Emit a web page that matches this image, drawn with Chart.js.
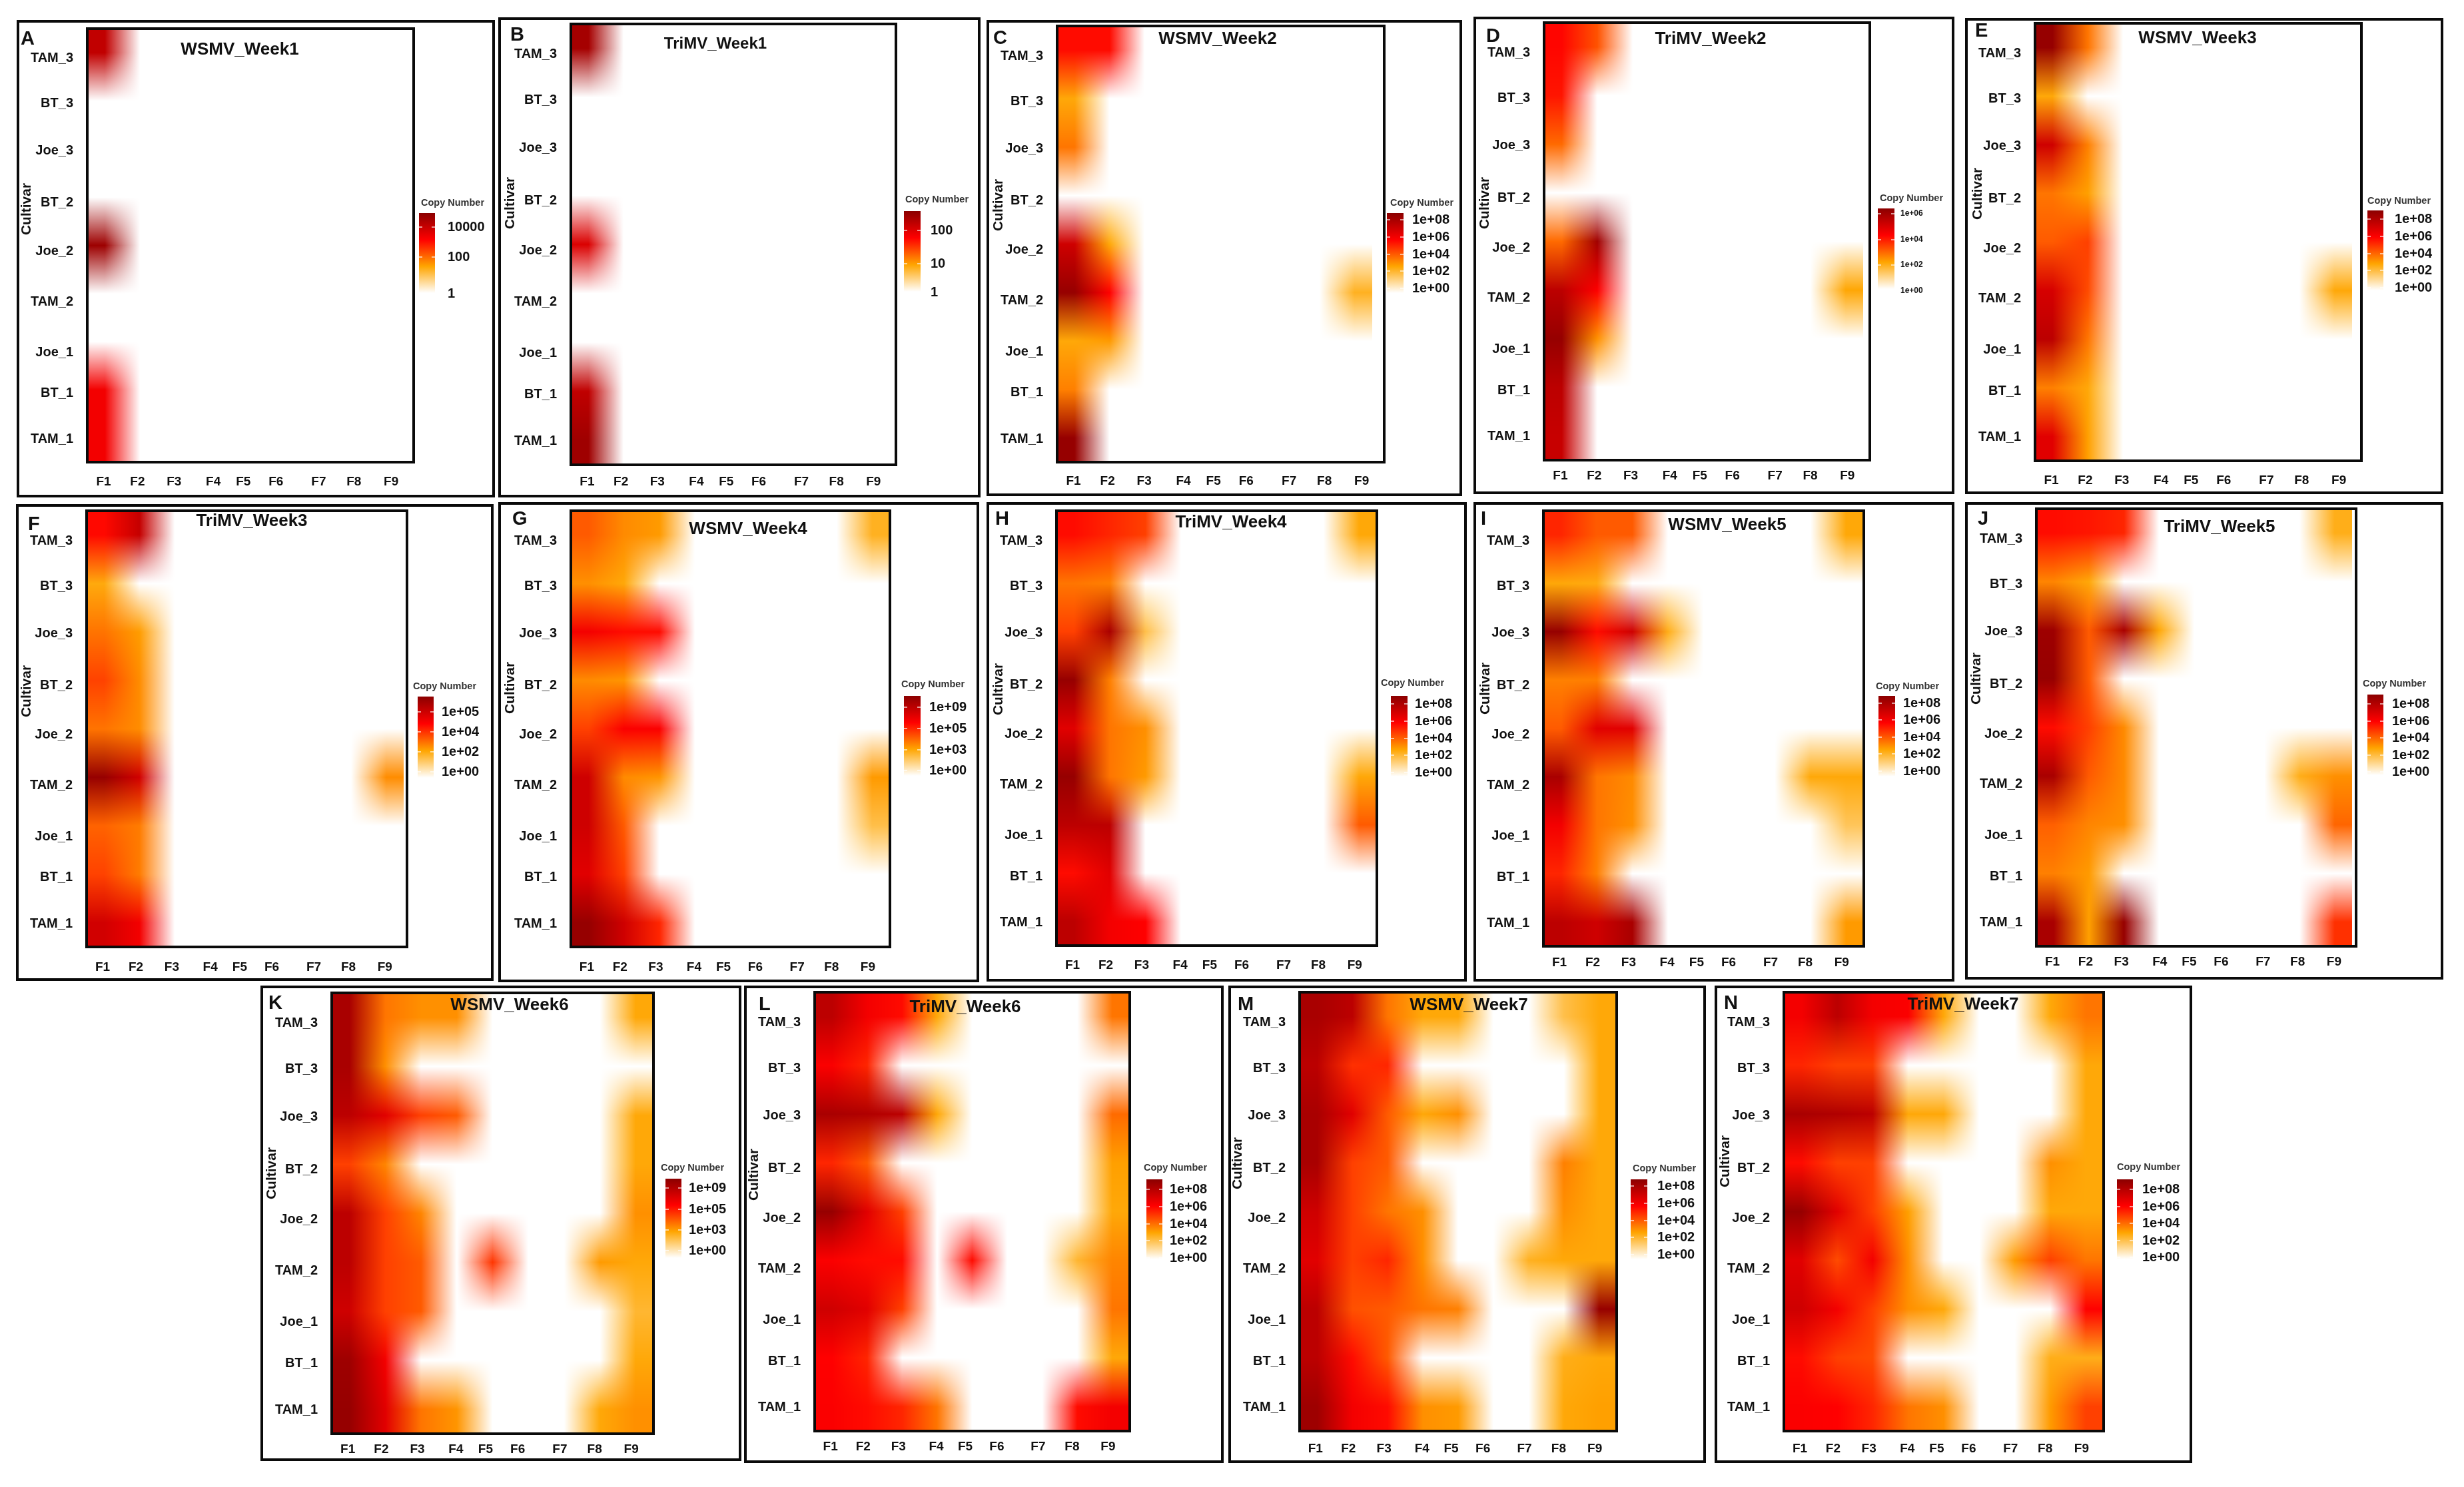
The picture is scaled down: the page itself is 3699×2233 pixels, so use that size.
<!DOCTYPE html>
<html>
<head>
<meta charset="utf-8">
<title>Copy number heatmaps</title>
<script src="https://cdn.jsdelivr.net/npm/chart.js@4/dist/chart.umd.min.js"></script>
<style>
  html, body { margin: 0; background: #fff; }
  #page { position: relative; width: 3699px; height: 2233px; overflow: hidden; background: #fff; }
  #page canvas { position: absolute; filter: blur(0.7px); }
</style>
</head>
<body>
<div id="page"></div>
<script>
// ── data ──────────────────────────────────────────
var cultivars = ['TAM_3', 'BT_3', 'Joe_3', 'BT_2', 'Joe_2', 'TAM_2', 'Joe_1', 'BT_1', 'TAM_1'];
var fields = ['F1', 'F2', 'F3', 'F4', 'F5', 'F6', 'F7', 'F8', 'F9'];

// log10 copy number, one row per cultivar (top to bottom), 0 = nothing detected
var WSMV_Week1 = [
  [4.1, 0, 0, 0, 0, 0, 0, 0, 0],
  [0, 0, 0, 0, 0, 0, 0, 0, 0],
  [0, 0, 0, 0, 0, 0, 0, 0, 0],
  [0, 0, 0, 0, 0, 0, 0, 0, 0],
  [4.6, 0, 0, 0, 0, 0, 0, 0, 0],
  [0, 0, 0, 0, 0, 0, 0, 0, 0],
  [0, 0, 0, 0, 0, 0, 0, 0, 0],
  [3.4, 0, 0, 0, 0, 0, 0, 0, 0],
  [3.4, 0, 0, 0, 0, 0, 0, 0, 0]
];
var TriMV_Week1 = [
  [2.45, 0, 0, 0, 0, 0, 0, 0, 0],
  [0, 0, 0, 0, 0, 0, 0, 0, 0],
  [0, 0, 0, 0, 0, 0, 0, 0, 0],
  [0, 0, 0, 0, 0, 0, 0, 0, 0],
  [2.05, 0, 0, 0, 0, 0, 0, 0, 0],
  [0, 0, 0, 0, 0, 0, 0, 0, 0],
  [0, 0, 0, 0, 0, 0, 0, 0, 0],
  [2.25, 0, 0, 0, 0, 0, 0, 0, 0],
  [2.5, 0, 0, 0, 0, 0, 0, 0, 0]
];
var WSMV_Week2 = [
  [6, 6, 0, 0, 0, 0, 0, 0, 0],
  [3, 0, 0, 0, 0, 0, 0, 0, 0],
  [4, 0, 0, 0, 0, 0, 0, 0, 0],
  [0, 0, 0, 0, 0, 0, 0, 0, 0],
  [7.5, 3, 0, 0, 0, 0, 0, 0, 0],
  [9, 6.2, 0, 0, 0, 0, 0, 0, 2.7],
  [3, 3.3, 0, 0, 0, 0, 0, 0, 0],
  [3.8, 0, 0, 0, 0, 0, 0, 0, 0],
  [9, 0, 0, 0, 0, 0, 0, 0, 0]
];
var TriMV_Week2 = [
  [4.2, 3.2, 0, 0, 0, 0, 0, 0, 0],
  [4, 0, 0, 0, 0, 0, 0, 0, 0],
  [2.9, 0, 0, 0, 0, 0, 0, 0, 0],
  [0, 0, 0, 0, 0, 0, 0, 0, 0],
  [2.9, 6, 0, 0, 0, 0, 0, 0, 0],
  [5.5, 4.3, 0, 0, 0, 0, 0, 0, 2.1],
  [6.2, 2.4, 0, 0, 0, 0, 0, 0, 0],
  [5.5, 0, 0, 0, 0, 0, 0, 0, 0],
  [5.3, 0, 0, 0, 0, 0, 0, 0, 0]
];
var WSMV_Week3 = [
  [9, 4, 0, 0, 0, 0, 0, 0, 0],
  [3, 0, 0, 0, 0, 0, 0, 0, 0],
  [7.5, 3.8, 0, 0, 0, 0, 0, 0, 0],
  [4, 3.2, 0, 0, 0, 0, 0, 0, 0],
  [4.5, 5, 0, 0, 0, 0, 0, 0, 0],
  [7.3, 4.8, 0, 0, 0, 0, 0, 0, 3],
  [8, 4, 0, 0, 0, 0, 0, 0, 0],
  [3.8, 3, 0, 0, 0, 0, 0, 0, 0],
  [7, 3.2, 0, 0, 0, 0, 0, 0, 0]
];
var TriMV_Week3 = [
  [3.9, 5, 0, 0, 0, 0, 0, 0, 0],
  [1.9, 0, 0, 0, 0, 0, 0, 0, 0],
  [2.6, 2.1, 0, 0, 0, 0, 0, 0, 0],
  [3.2, 2.3, 0, 0, 0, 0, 0, 0, 0],
  [2.6, 2.3, 0, 0, 0, 0, 0, 0, 0],
  [5.8, 4.8, 0, 0, 0, 0, 0, 0, 2.3],
  [2.8, 2.5, 0, 0, 0, 0, 0, 0, 0],
  [3.2, 2.5, 0, 0, 0, 0, 0, 0, 0],
  [4.8, 4.2, 0, 0, 0, 0, 0, 0, 0]
];
var WSMV_Week4 = [
  [4.5, 3.6, 3.3, 0, 0, 0, 0, 0, 2.7],
  [3.5, 3, 0, 0, 0, 0, 0, 0, 0],
  [6.5, 6, 6, 0, 0, 0, 0, 0, 0],
  [3.6, 3.4, 0, 0, 0, 0, 0, 0, 0],
  [5, 6.3, 6.3, 0, 0, 0, 0, 0, 0],
  [7.5, 3.6, 3.4, 0, 0, 0, 0, 0, 3.3],
  [7.5, 4.5, 0, 0, 0, 0, 0, 0, 2.2],
  [7, 5, 0, 0, 0, 0, 0, 0, 0],
  [9, 7.5, 5.5, 0, 0, 0, 0, 0, 0]
];
var TriMV_Week4 = [
  [6, 5.5, 5, 0, 0, 0, 0, 0, 3],
  [4, 3.8, 0, 0, 0, 0, 0, 0, 0],
  [5, 8.5, 2.2, 0, 0, 0, 0, 0, 0],
  [9, 3.8, 0, 0, 0, 0, 0, 0, 0],
  [7, 4, 3.5, 0, 0, 0, 0, 0, 0],
  [9, 4, 3.3, 0, 0, 0, 0, 0, 3],
  [8, 8, 0, 0, 0, 0, 0, 0, 4.5],
  [6, 7, 0, 0, 0, 0, 0, 0, 0],
  [8, 6.5, 6.2, 0, 0, 0, 0, 0, 0]
];
var WSMV_Week5 = [
  [5.5, 4.5, 4.5, 0, 0, 0, 0, 0, 3],
  [3, 2.9, 0, 0, 0, 0, 0, 0, 0],
  [9, 6, 7.5, 2.8, 0, 0, 0, 0, 0],
  [3.8, 3.8, 0, 0, 0, 0, 0, 0, 0],
  [4.5, 7, 7, 0, 0, 0, 0, 0, 0],
  [8.5, 4, 3.6, 0, 0, 0, 0, 3, 3],
  [6.5, 4, 3.5, 0, 0, 0, 0, 0, 2],
  [5.5, 3.8, 0, 0, 0, 0, 0, 0, 0],
  [8, 7.5, 8.5, 0, 0, 0, 0, 0, 3.3]
];
var TriMV_Week5 = [
  [6, 5.8, 5.5, 0, 0, 0, 0, 0, 2.8],
  [3.7, 3, 0, 0, 0, 0, 0, 0, 0],
  [8.8, 4.5, 8.5, 3, 0, 0, 0, 0, 0],
  [9, 4.5, 0, 0, 0, 0, 0, 0, 0],
  [6, 5, 3.6, 0, 0, 0, 0, 0, 0],
  [8.5, 4.5, 3.6, 0, 0, 0, 0, 2.8, 3.5],
  [4.4, 3.7, 3.5, 0, 0, 0, 0, 0, 4.3],
  [3.8, 3.3, 0, 0, 0, 0, 0, 0, 0],
  [8.5, 3.2, 9, 0, 0, 0, 0, 0, 5.3]
];
var WSMV_Week6 = [
  [8.5, 4, 3.5, 3.5, 0, 0, 0, 0, 3],
  [8.5, 3.5, 0, 0, 0, 0, 0, 0, 0],
  [8, 7, 5, 4.5, 0, 0, 0, 0, 3],
  [5, 3.7, 0, 0, 0, 0, 0, 0, 3],
  [8, 5, 3.7, 0, 0, 0, 0, 0, 3.5],
  [8, 5, 4.5, 0, 5.2, 0, 0, 3.3, 3],
  [7.5, 5, 4.5, 0, 0, 0, 0, 0, 2.5],
  [8.8, 6.5, 0, 0, 0, 0, 0, 0, 3],
  [9, 7, 4, 3.4, 0, 0, 0, 3, 3.5]
];
var TriMV_Week6 = [
  [8, 6.5, 6, 3, 0, 0, 0, 0, 4],
  [6.3, 5.5, 0, 0, 0, 0, 0, 0, 0],
  [8.5, 8.3, 8, 3, 0, 0, 0, 0, 4.2],
  [5.5, 4.5, 0, 0, 0, 0, 0, 0, 3.2],
  [9, 7, 5, 0, 0, 0, 0, 0, 3],
  [6.3, 6, 6, 0, 6, 0, 0, 2.5, 3.7],
  [7.5, 7, 5, 0, 0, 0, 0, 0, 4],
  [6.2, 5.5, 0, 0, 0, 0, 0, 0, 3],
  [6.3, 6, 5.5, 4, 0, 0, 0, 6, 6.5]
];
var WSMV_Week7 = [
  [8.5, 8, 4, 3, 3, 0, 0, 2.2, 3],
  [8, 5.3, 5.5, 0, 0, 0, 0, 0, 3],
  [8.5, 7, 4.5, 3, 3.5, 0, 0, 0, 3],
  [8.5, 5, 4.5, 0, 0, 0, 0, 3.8, 3],
  [7.5, 5, 4, 3.5, 0, 0, 0, 3.5, 3],
  [7, 5, 5.5, 3.5, 0, 0, 2.7, 3, 3],
  [8, 4.7, 4.5, 4, 3.8, 0, 0, 0, 9],
  [8, 6, 4.5, 0, 0, 0, 0, 2.8, 3],
  [8.8, 6.5, 6, 3.5, 3.3, 0, 0, 3, 3.2]
];
var TriMV_Week7 = [
  [6.5, 8, 6.5, 6.3, 3, 0, 0, 3, 4],
  [5.5, 5, 5, 0, 0, 0, 0, 0, 3],
  [8.5, 8.3, 8, 3, 3, 0, 0, 0, 3],
  [6, 5, 5, 0, 0, 0, 0, 3.5, 3],
  [9, 7, 5, 3.2, 0, 0, 0, 3, 3],
  [7, 4.8, 6.5, 3.5, 0, 0, 3.3, 5, 4],
  [7.5, 6.5, 5, 3.5, 3, 0, 0, 0, 6.2],
  [6, 5, 4.8, 0, 0, 0, 0, 2.8, 2.8],
  [6.3, 6.2, 5.5, 4, 3.5, 0, 0, 3.3, 5]
];

var legend8 = ['1e+08', '1e+06', '1e+04', '1e+02', '1e+00'];
var legend9 = ['1e+09', '1e+05', '1e+03', '1e+00'];
var legend5 = ['1e+05', '1e+04', '1e+02', '1e+00'];
var legend6 = ['1e+06', '1e+04', '1e+02', '1e+00'];
var legendA = ['10000', '100', '1'];
var legendB = ['100', '10', '1'];

// colour ramp, evenly spaced from lowest to highest value
var ramp = [[255, 255, 255], [255, 165, 0], [255, 0, 0], [139, 0, 0]];

// ── layout ────────────────────────────────────────
var xLabelFrac = [0.05, 0.154, 0.266, 0.386, 0.478, 0.578, 0.709, 0.817, 0.931];
var yLabelShift = [0.12, 0.06, 0.03, 0.11, 0.13, 0.17, 0.22, 0.07, 0.02];

var panels = [
  { tag: 'A', name: 'WSMV_Week1', rows: WSMV_Week1, max: 4.85, gap: 0.25, frame: [25, 30, 743, 747], plot: [131, 43, 621, 694], tagAt: [31, 67], titleAt: [360, 75], cultAt: [40, 314], xPad: 19,
    leg: { labels: legendA, ys: [341, 386, 441], bar: [629, 320, 653, 440], textX: 672, headAt: [632, 305] } },
  { tag: 'B', name: 'TriMV_Week1', rows: TriMV_Week1, max: 2.65, gap: 0.25, titleSize: 24, frame: [748, 26, 1472, 747], plot: [857, 36, 1345, 698], tagAt: [766, 61], titleAt: [1074, 66], cultAt: [766, 305], xPad: 15,
    leg: { labels: legendB, ys: [346, 396, 439], bar: [1357, 317, 1382, 438], textX: 1397, headAt: [1359, 300] } },
  { tag: 'C', name: 'WSMV_Week2', rows: WSMV_Week2, max: 9.3, gap: 0.35, frame: [1481, 30, 2195, 745], plot: [1587, 39, 2078, 694], tagAt: [1491, 66], titleAt: [1828, 59], cultAt: [1499, 308], xPad: 18,
    leg: { labels: legend8, ys: [330, 356, 382, 407, 433], bar: [2082, 320, 2107, 440], textX: 2120, headAt: [2087, 305] } },
  { tag: 'D', name: 'TriMV_Week2', rows: TriMV_Week2, max: 6.4, gap: 0.18, frame: [2212, 25, 2934, 742], plot: [2318, 34, 2807, 691], tagAt: [2231, 63], titleAt: [2568, 59], cultAt: [2229, 305], xPad: 13,
    leg: { labels: legend6, ys: [321, 360, 398, 437], bar: [2819, 313, 2844, 434], textX: 2853, textSize: 12, headAt: [2822, 298] } },
  { tag: 'E', name: 'WSMV_Week3', rows: WSMV_Week3, max: 9.3, gap: 0.26, frame: [2950, 27, 3668, 742], plot: [3055, 35, 3545, 692], tagAt: [2965, 55], titleAt: [3299, 58], cultAt: [2969, 291], xPad: 19,
    leg: { labels: legend8, ys: [329, 355, 381, 406, 432], bar: [3554, 316, 3578, 436], textX: 3595, headAt: [3554, 302] } },
  { tag: 'F', name: 'TriMV_Week3', rows: TriMV_Week3, max: 6, gap: 0.09, frame: [24, 757, 741, 1473], plot: [130, 767, 611, 1422], tagAt: [42, 796], titleAt: [378, 783], cultAt: [40, 1038], xPad: 20,
    leg: { labels: legend5, ys: [1069, 1099, 1129, 1159], bar: [627, 1046, 651, 1168], textX: 663, headAt: [620, 1031] } },
  { tag: 'G', name: 'WSMV_Week4', rows: WSMV_Week4, max: 9.3, gap: 0, frame: [748, 754, 1470, 1475], plot: [857, 767, 1336, 1422], tagAt: [769, 788], titleAt: [1123, 795], cultAt: [766, 1033], xPad: 20,
    leg: { labels: legend9, ys: [1062, 1094, 1126, 1157], bar: [1357, 1045, 1382, 1165], textX: 1395, headAt: [1353, 1028] } },
  { tag: 'H', name: 'TriMV_Week4', rows: TriMV_Week4, max: 9.3, gap: 0, frame: [1481, 754, 2202, 1474], plot: [1586, 767, 2067, 1420], tagAt: [1494, 788], titleAt: [1848, 785], cultAt: [1499, 1035], xPad: 19,
    leg: { labels: legend8, ys: [1057, 1083, 1109, 1134, 1160], bar: [2088, 1045, 2113, 1166], textX: 2124, headAt: [2073, 1026] } },
  { tag: 'I', name: 'WSMV_Week5', rows: WSMV_Week5, max: 9.3, gap: 0, frame: [2212, 754, 2934, 1474], plot: [2317, 767, 2798, 1421], tagAt: [2223, 788], titleAt: [2593, 789], cultAt: [2230, 1034], xPad: 14,
    leg: { labels: legend8, ys: [1056, 1081, 1107, 1132, 1158], bar: [2820, 1045, 2845, 1166], textX: 2857, headAt: [2816, 1031] } },
  { tag: 'J', name: 'TriMV_Week5', rows: TriMV_Week5, max: 9.3, gap: 0.11, frame: [2950, 754, 3668, 1471], plot: [3057, 764, 3537, 1421], tagAt: [2969, 788], titleAt: [3332, 792], cultAt: [2967, 1019], xPad: 13,
    leg: { labels: legend8, ys: [1057, 1083, 1108, 1134, 1159], bar: [3554, 1043, 3578, 1164], textX: 3591, headAt: [3547, 1027] } },
  { tag: 'K', name: 'WSMV_Week6', rows: WSMV_Week6, max: 9.3, gap: 0, frame: [391, 1480, 1113, 2194], plot: [498, 1491, 981, 2153], tagAt: [403, 1515], titleAt: [765, 1510], cultAt: [408, 1762], xPad: 13,
    leg: { labels: legend9, ys: [1784, 1816, 1847, 1878], bar: [999, 1770, 1023, 1889], textX: 1034, headAt: [992, 1754] } },
  { tag: 'L', name: 'TriMV_Week6', rows: TriMV_Week6, max: 9.3, gap: 0, frame: [1117, 1480, 1837, 2197], plot: [1223, 1490, 1696, 2149], tagAt: [1139, 1517], titleAt: [1449, 1513], cultAt: [1132, 1764], xPad: 13,
    leg: { labels: legend8, ys: [1786, 1812, 1838, 1863, 1889], bar: [1721, 1771, 1745, 1891], textX: 1756, headAt: [1717, 1754] } },
  { tag: 'M', name: 'WSMV_Week7', rows: WSMV_Week7, max: 9.3, gap: 0, frame: [1844, 1480, 2561, 2197], plot: [1951, 1490, 2427, 2149], tagAt: [1858, 1517], titleAt: [2205, 1510], cultAt: [1858, 1747], xPad: 16,
    leg: { labels: legend8, ys: [1781, 1807, 1833, 1858, 1884], bar: [2448, 1771, 2473, 1891], textX: 2488, headAt: [2451, 1755] } },
  { tag: 'N', name: 'TriMV_Week7', rows: TriMV_Week7, max: 9.3, gap: 0, frame: [2574, 1480, 3291, 2197], plot: [2678, 1490, 3158, 2149], tagAt: [2588, 1515], titleAt: [2947, 1509], cultAt: [2590, 1744], xPad: 16,
    leg: { labels: legend8, ys: [1786, 1812, 1837, 1863, 1888], bar: [3178, 1771, 3202, 1891], textX: 3216, headAt: [3178, 1753] } }
];

var FONT = '"Liberation Sans", Arial, sans-serif';
var INK = '#111';

function rampColor(t) {
  t = Math.max(0, Math.min(1, t)) * (ramp.length - 1);
  var i = Math.min(Math.floor(t), ramp.length - 2);
  var f = t - i;
  return [0, 1, 2].map(function (k) { return ramp[i][k] + (ramp[i + 1][k] - ramp[i][k]) * f; });
}

// lookup along one axis: for each pixel the neighbouring cell and the mix
function axisLookup(scale, from, count) {
  var out = [];
  for (var n = 0; n < count; n++) {
    var v = Math.max(1, Math.min(9, scale.getValueForPixel(from + n + 0.5))) - 1;
    var a = Math.min(Math.floor(v), 7);
    out.push([a, v - a]);
  }
  return out;
}

// draws the interpolated raster from the dataset points, through the chart's scales
function drawRaster(chart, p) {
  var area = chart.chartArea;
  var xs = chart.scales.x, ys = chart.scales.y;
  var x0 = Math.round(area.left);
  var w = Math.round(Math.min(area.right, xs.getPixelForValue(9.5))) - x0;
  var y0 = Math.round(area.top);
  var h = Math.round(area.bottom) - y0;

  var grid = [];
  chart.data.datasets[0].data.forEach(function (pt) {
    grid[(pt.y - 1) * 9 + (pt.x - 1)] = rampColor(pt.v / p.max);
  });

  var off = document.createElement('canvas');
  off.width = w; off.height = h;
  var octx = off.getContext('2d');
  var img = octx.createImageData(w, h);
  var cols = axisLookup(xs, x0, w);
  var rows = axisLookup(ys, y0, h);
  var d = img.data, o = 0;
  for (var py = 0; py < h; py++) {
    var r = rows[py][0], fy = rows[py][1];
    for (var px = 0; px < w; px++) {
      var c = cols[px][0], fx = cols[px][1];
      var c00 = grid[r * 9 + c], c01 = grid[r * 9 + c + 1];
      var c10 = grid[(r + 1) * 9 + c], c11 = grid[(r + 1) * 9 + c + 1];
      for (var k = 0; k < 3; k++) {
        d[o + k] = (c00[k] * (1 - fx) + c01[k] * fx) * (1 - fy) + (c10[k] * (1 - fx) + c11[k] * fx) * fy;
      }
      d[o + 3] = 255;
      o += 4;
    }
  }
  octx.putImageData(img, 0, 0);
  chart.ctx.drawImage(off, x0, y0);
}

function drawLegend(ctx, p, ox, oy) {
  var leg = p.leg, b = leg.bar;
  var g = ctx.createLinearGradient(0, b[3] - oy, 0, b[1] - oy);
  ramp.forEach(function (c, i) {
    g.addColorStop(i / (ramp.length - 1), 'rgb(' + c.join(',') + ')');
  });
  ctx.fillStyle = g;
  ctx.fillRect(b[0] - ox, b[1] - oy, b[2] - b[0], b[3] - b[1]);

  ctx.fillStyle = '#333';
  ctx.font = 'bold 14.5px ' + FONT;
  ctx.textAlign = 'left';
  ctx.textBaseline = 'middle';
  ctx.fillText('Copy Number', leg.headAt[0] - ox, leg.headAt[1] - oy);

  ctx.fillStyle = INK;
  ctx.font = 'bold ' + (leg.textSize || 20) + 'px ' + FONT;
  leg.labels.forEach(function (txt, i) {
    var y = leg.ys[i] - oy;
    ctx.fillText(txt, leg.textX - ox, y);
    if (y + oy < b[3]) {
      ctx.save();
      ctx.fillStyle = 'rgba(255,255,255,.6)';
      ctx.fillRect(b[0] - ox, y - 1, 5, 2);
      ctx.fillRect(b[2] - ox - 5, y - 1, 5, 2);
      ctx.restore();
    }
  });
}

function panelPlugin(p) {
  var ox = p.frame[0], oy = p.frame[1];
  return {
    id: 'panel',
    beforeDatasetsDraw: function (chart) { drawRaster(chart, p); },
    afterDraw: function (chart) {
      var ctx = chart.ctx, area = chart.chartArea;
      ctx.save();
      // plot border and outer panel frame
      ctx.strokeStyle = '#0a0a0a';
      ctx.lineWidth = 4;
      ctx.strokeRect(area.left, area.top, area.right - area.left, area.bottom - area.top);
      ctx.strokeRect(2, 2, chart.width - 4, chart.height - 4);

      ctx.fillStyle = INK;
      ctx.textBaseline = 'alphabetic';
      ctx.textAlign = 'left';
      ctx.font = 'bold 29px ' + FONT;
      ctx.fillText(p.tag, p.tagAt[0] - ox, p.tagAt[1] - oy);

      ctx.textAlign = 'center';
      ctx.textBaseline = 'middle';
      ctx.font = 'bold ' + (p.titleSize || 26) + 'px ' + FONT;
      ctx.fillText(p.name, p.titleAt[0] - ox, p.titleAt[1] - oy);

      ctx.save();
      ctx.translate(p.cultAt[0] - ox, p.cultAt[1] - oy);
      ctx.rotate(-Math.PI / 2);
      ctx.font = 'bold 21px ' + FONT;
      ctx.fillText('Cultivar', 0, 0);
      ctx.restore();

      drawLegend(ctx, p, ox, oy);
      ctx.restore();
    }
  };
}

function noScalePadding(s) {
  s.paddingTop = 0; s.paddingBottom = 0; s.paddingLeft = 0; s.paddingRight = 0;
}

function makePanel(p) {
  var page = document.getElementById('page');
  var cv = document.createElement('canvas');
  var f = p.frame, pl = p.plot;
  cv.width = f[2] - f[0];
  cv.height = f[3] - f[1];
  cv.style.left = f[0] + 'px';
  cv.style.top = f[1] + 'px';
  page.appendChild(cv);

  var points = [];
  p.rows.forEach(function (row, r) {
    row.forEach(function (v, c) { points.push({ x: c + 1, y: r + 1, v: v }); });
  });

  var xMax = 9.5 + p.gap;
  new Chart(cv.getContext('2d'), {
    type: 'scatter',
    data: { datasets: [{ data: points, pointRadius: 0, pointHoverRadius: 0 }] },
    options: {
      responsive: false,
      animation: false,
      events: [],
      layout: { autoPadding: false, padding: { left: 0, top: pl[1] - f[1], right: f[2] - pl[2], bottom: 0 } },
      plugins: { legend: { display: false }, tooltip: { enabled: false } },
      scales: {
        x: {
          type: 'linear', min: 0.5, max: xMax,
          grid: { display: false }, border: { display: false },
          ticks: {
            autoSkip: false, maxRotation: 0, color: INK, padding: p.xPad - 9,
            font: { family: FONT, size: 19, weight: 'bold' },
            callback: function (v, i) { return fields[i]; }
          },
          afterBuildTicks: function (s) {
            s.ticks = xLabelFrac.map(function (fr) { return { value: 0.5 + fr * (xMax - 0.5) }; });
          },
          afterFit: function (s) { s.height = f[3] - pl[3]; noScalePadding(s); }
        },
        y: {
          type: 'linear', min: 0.5, max: 9.5, reverse: true,
          grid: { display: false }, border: { display: false },
          ticks: {
            autoSkip: false, color: INK, padding: 13,
            font: { family: FONT, size: 20, weight: 'bold' },
            callback: function (v, i) { return cultivars[i]; }
          },
          afterBuildTicks: function (s) {
            s.ticks = yLabelShift.map(function (sh, i) { return { value: i + 1 + sh }; });
          },
          afterFit: function (s) { s.width = pl[0] - f[0]; noScalePadding(s); }
        }
      }
    },
    plugins: [panelPlugin(p)]
  });
}

panels.forEach(makePanel);
</script>
</body>
</html>
